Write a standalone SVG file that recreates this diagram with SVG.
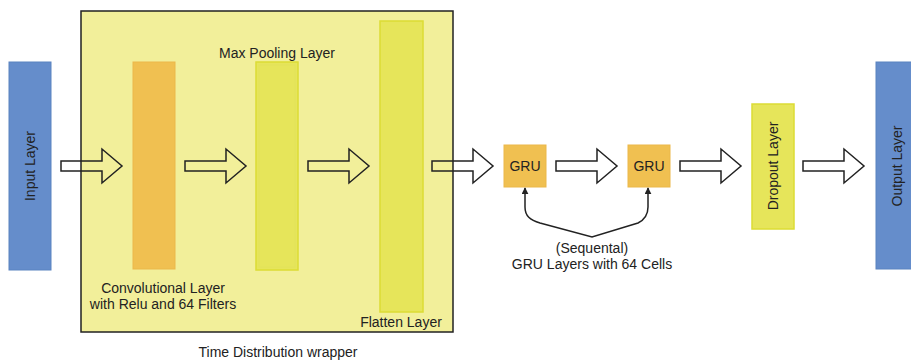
<svg xmlns="http://www.w3.org/2000/svg" width="911" height="361" viewBox="0 0 911 361">
<style>
text{font-family:"Liberation Sans",Arial,sans-serif;fill:#222;font-size:14px}
.blue{fill:#658dcb;stroke:#5b83c0;stroke-width:1}
.orange{fill:#f0c051;stroke:#ebb84a;stroke-width:1}
.lime{fill:#e6e55a;stroke:#dcdc35;stroke-width:1.5}
.arr{fill:none;stroke:#222;stroke-width:1.5;stroke-linejoin:miter}
.conn{fill:none;stroke:#222;stroke-width:1.5}
</style>
<defs>
<path id="blk" d="M0,-5 H41 V-17 L61,0 L41,17 V5 H0 Z"/>
<marker id="ah" viewBox="0 0 10 10" refX="9" refY="5" markerWidth="7" markerHeight="7" markerUnits="userSpaceOnUse" orient="auto-start-reverse">
<path d="M0,0 L10,5 L0,10 Z" fill="#222"/>
</marker>
</defs>
<g id="wrapper">
<rect x="81" y="11" width="372" height="321" fill="#f2ef9a" stroke="#222" stroke-width="1.5"/>
<text x="278" y="357" text-anchor="middle">Time Distribution wrapper</text>
</g>
<g id="input">
<rect class="blue" x="9" y="62" width="42" height="208"/>
<text transform="translate(35,166) rotate(-90)" text-anchor="middle">Input Layer</text>
</g>
<g id="conv">
<rect class="orange" x="133" y="62" width="42" height="207"/>
<text x="163" y="293" text-anchor="middle">Convolutional Layer</text>
<text x="163" y="309" text-anchor="middle">with Relu and 64 Filters</text>
</g>
<g id="maxpool">
<rect class="lime" x="256" y="62" width="42" height="208"/>
<rect x="259" y="65" width="36" height="202" fill="none" stroke="#e2e25a" stroke-width="1"/>
<text x="277" y="58" text-anchor="middle">Max Pooling Layer</text>
</g>
<g id="flatten">
<rect class="lime" x="380" y="21" width="43" height="291"/>
<text x="401" y="327" text-anchor="middle">Flatten Layer</text>
</g>
<g id="gru1">
<rect class="orange" x="504" y="145" width="42" height="42"/>
<text x="525" y="171" text-anchor="middle">GRU</text>
</g>
<g id="gru2">
<rect class="orange" x="628" y="145" width="42" height="42"/>
<text x="649" y="171" text-anchor="middle">GRU</text>
</g>
<g id="gru-label">
<text x="592" y="253" text-anchor="middle">(Sequental)</text>
<text x="592" y="269" text-anchor="middle">GRU Layers with 64 Cells</text>
</g>
<g id="dropout">
<rect class="lime" x="752" y="104" width="42" height="125"/>
<text transform="translate(778,166) rotate(-90)" text-anchor="middle">Dropout Layer</text>
</g>
<g id="output">
<rect class="blue" x="876" y="62" width="40" height="207"/>
<text transform="translate(902,166) rotate(-90)" text-anchor="middle">Output Layer</text>
</g>
<g id="connectors">
<use href="#blk" class="arr" transform="translate(61,166)"/>
<use href="#blk" class="arr" transform="translate(185,166)"/>
<use href="#blk" class="arr" transform="translate(308,166)"/>
<use href="#blk" class="arr" transform="translate(432,166)"/>
<use href="#blk" class="arr" transform="translate(556,166)"/>
<use href="#blk" class="arr" transform="translate(680,166)"/>
<use href="#blk" class="arr" transform="translate(803,166)"/>
<path class="conn" d="M525,188 V207 C525,216 530,220 540,223 L592,237 L638,223 C644,220 648,216 648,207 V188" marker-start="url(#ah)" marker-end="url(#ah)"/>
</g>
</svg>
